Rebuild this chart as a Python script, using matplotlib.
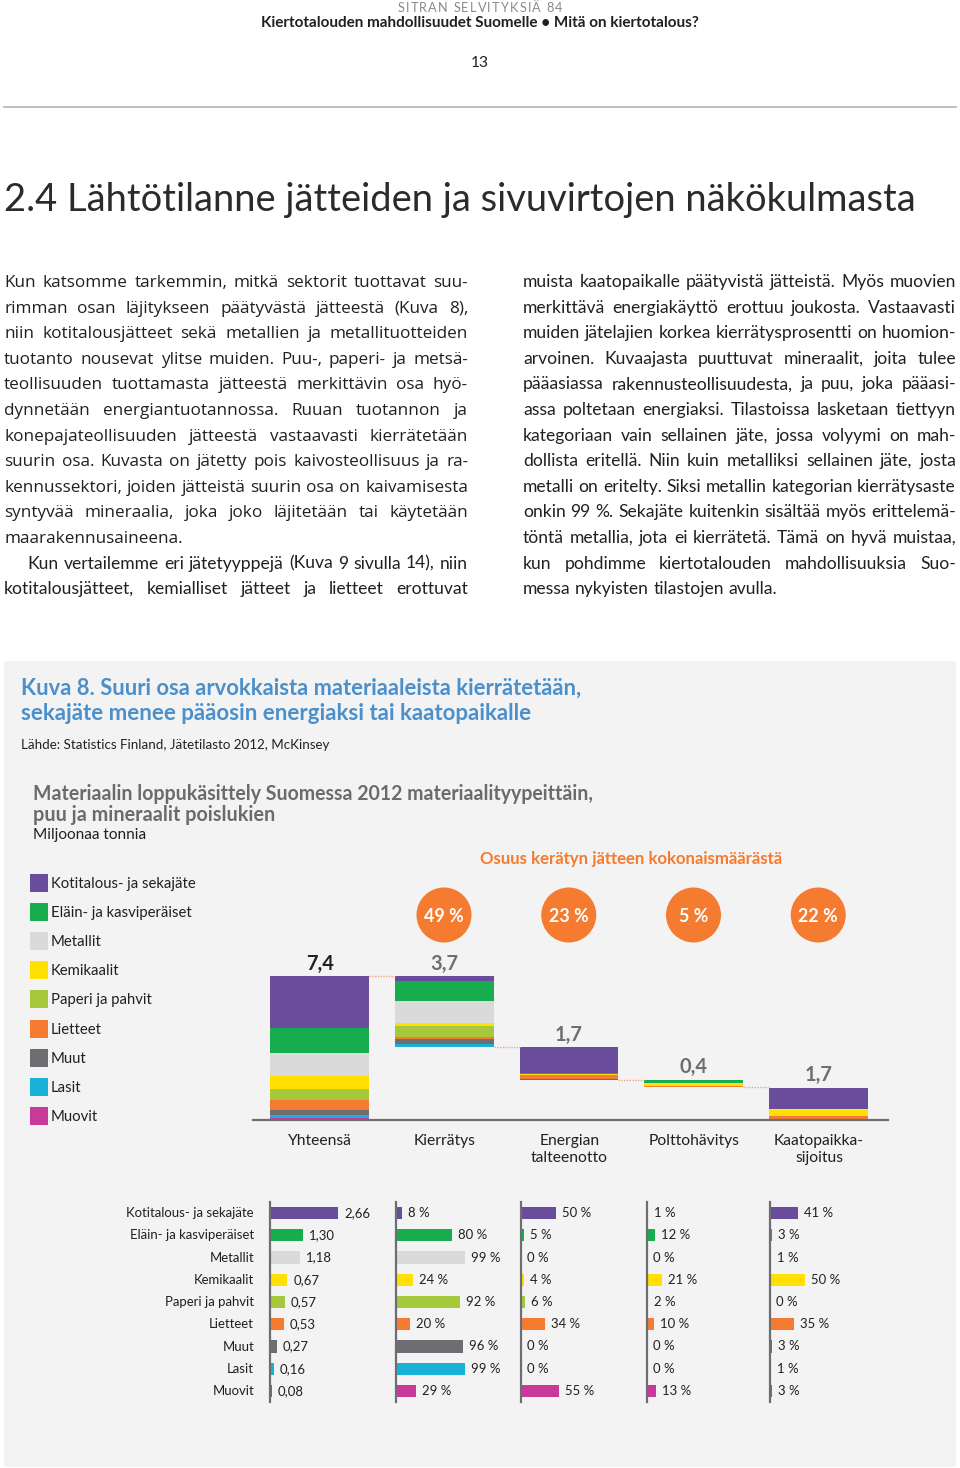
import matplotlib
matplotlib.use("Agg")
import matplotlib.pyplot as plt
from matplotlib.patches import Rectangle, Circle

# ---------------- data ----------------
materials = ["Kotitalous- ja sekajäte", "Eläin- ja kasviperäiset", "Metallit",
             "Kemikaalit", "Paperi ja pahvit", "Lietteet", "Muut", "Lasit", "Muovit"]
amounts = [2.66, 1.30, 1.18, 0.67, 0.57, 0.53, 0.27, 0.16, 0.08]
amount_labels = ["2,66", "1,30", "1,18", "0,67", "0,57", "0,53", "0,27", "0,16", "0,08"]
pct_recycling = [8, 80, 99, 24, 92, 20, 96, 99, 29]
pct_energy = [50, 5, 0, 4, 6, 34, 0, 0, 55]
pct_burning = [1, 12, 0, 21, 2, 10, 0, 0, 13]
pct_landfill = [41, 3, 1, 50, 0, 35, 3, 1, 3]
stages = ["Yhteensä", "Kierrätys", "Energian\ntalteenotto", "Polttohävitys", "Kaatopaikka-\nsijoitus"]
stage_labels = ["7,4", "3,7", "1,7", "0,4", "1,7"]
shares = ["49 %", "23 %", "5 %", "22 %"]
mat_colors = ["#6a4c9c", "#17ad4e", "#d9dad9", "#ffe000", "#a6c93b",
              "#f47b2f", "#6d6e71", "#19b2d6", "#c9399a"]

left_par1 = [
    "Kun katsomme tarkemmin, mitkä sektorit tuottavat suu-",
    "rimman osan läjitykseen päätyvästä jätteestä (Kuva 8),",
    "niin kotitalousjätteet sekä metallien ja metallituotteiden",
    "tuotanto nousevat ylitse muiden. Puu-, paperi- ja metsä-",
    "teollisuuden tuottamasta jätteestä merkittävin osa hyö-",
    "dynnetään energiantuotannossa. Ruuan tuotannon ja",
    "konepajateollisuuden jätteestä vastaavasti kierrätetään",
    "suurin osa. Kuvasta on jätetty pois kaivosteollisuus ja ra-",
    "kennussektori, joiden jätteistä suurin osa on kaivamisesta",
    "syntyvää mineraalia, joka joko läjitetään tai käytetään",
    "maarakennusaineena.",
]
left_par2 = [
    "Kun vertailemme eri jätetyyppejä (Kuva 9 sivulla 14), niin",
    "kotitalousjätteet, kemialliset jätteet ja lietteet erottuvat",
]
right_par = [
    "muista kaatopaikalle päätyvistä jätteistä. Myös muovien",
    "merkittävä energiakäyttö erottuu joukosta. Vastaavasti",
    "muiden jätelajien korkea kierrätysprosentti on huomion-",
    "arvoinen. Kuvaajasta puuttuvat mineraalit, joita tulee",
    "pääasiassa rakennusteollisuudesta, ja puu, joka pääasi-",
    "assa poltetaan energiaksi. Tilastoissa lasketaan tiettyyn",
    "kategoriaan vain sellainen jäte, jossa volyymi on mah-",
    "dollista eritellä. Niin kuin metalliksi sellainen jäte, josta",
    "metalli on eritelty. Siksi metallin kategorian kierrätysaste",
    "onkin 99 %. Sekajäte kuitenkin sisältää myös erittelemä-",
    "töntä metallia, jota ei kierrätetä. Tämä on hyvä muistaa,",
    "kun pohdimme kiertotalouden mahdollisuuksia Suo-",
    "messa nykyisten tilastojen avulla.",
]

# ---------------- figure ----------------
W, H = 960, 1468
fig = plt.figure(figsize=(W / 100, H / 100), dpi=100)
fig.patch.set_facecolor("white")
bg = fig.add_axes([0, 0, 1, 1])
bg.set_xlim(0, W)
bg.set_ylim(H, 0)
bg.axis("off")
R = fig.canvas.get_renderer()

DARK = "#231f20"
SANS = ["Lato", "DejaVu Sans"]
WIDE = ["Open Sans", "DejaVu Sans"]


def rect(x0, y0, x1, y1):
    return [x0 / W, 1 - y1 / H, (x1 - x0) / W, (y1 - y0) / H]


def text_width(s, size, **kw):
    t = bg.text(0, 0, s, fontsize=size, **kw)
    w = t.get_window_extent(R).width
    t.remove()
    return w


def size_for(s, width, **kw):
    return 10 * width / text_width(s, 10, **kw)


def fit(x, y, s, width, **kw):
    size = size_for(s, width, **{k: v for k, v in kw.items() if k in ("family", "weight")})
    return bg.text(x, y, s, fontsize=size, **kw)


def par_size(lines, width, family, indent_first=0):
    best = 99
    for i, ln in enumerate(lines):
        w = width - (indent_first if i == 0 else 0)
        best = min(best, 10 * w / text_width(ln, 10, family=family))
    return best * 0.995


def justify(x0, x1, base, line, size, family, last=False):
    words = line.split(" ")
    texts = [bg.text(0, base, w, fontsize=size, family=family, color=DARK,
                     va="baseline", ha="left") for w in words]
    widths = [t.get_window_extent(R).width for t in texts]
    if last or len(words) == 1:
        gap = text_width("a a", size, family=family) - text_width("aa", size, family=family)
    else:
        gap = (x1 - x0 - sum(widths)) / (len(words) - 1)
    x = x0
    for t, w in zip(texts, widths):
        t.set_x(x)
        x += w + gap


def spaced(xc, y, s, width, size, **kw):
    # letter-spaced text centred at xc spanning the given width
    texts = [bg.text(0, y, ch, fontsize=size, va="center", ha="left", **kw) for ch in s]
    widths = [t.get_window_extent(R).width for t in texts]
    track = (width - sum(widths)) / (len(s) - 1)
    x = xc - width / 2
    for t, w in zip(texts, widths):
        t.set_x(x)
        x += w + track


# ---------------- page header ----------------
spaced(480, 8, "SITRAN SELVITYKSIÄ 84", 165, 9.2, family=SANS, color="#8a8a8a")
fit(480, 23, "Kiertotalouden mahdollisuudet Suomelle • Mitä on kiertotalous?", 438,
    ha="center", va="center", family=SANS, weight="bold", color=DARK)
fit(480, 63, "13", 18, ha="center", va="center", family=SANS, color=DARK)
bg.plot([4, 956], [107, 107], color="#b4b4b4", lw=1.2)
fit(4, 200, "2.4 Lähtötilanne jätteiden ja sivuvirtojen näkökulmasta", 914,
    ha="left", va="center", family=SANS, color="#2b2b2b")

# ---------------- body text ----------------
lh = 25.6
b0 = 287
s1 = par_size(left_par1[:-1], 464, WIDE)
for i, ln in enumerate(left_par1):
    justify(4, 468, b0 + i * lh, ln, s1, WIDE, last=(i == len(left_par1) - 1))
s2 = min(par_size(left_par2, 464, SANS, indent_first=23), par_size(right_par[:-1], 433, SANS))
for i, ln in enumerate(left_par2):
    x0 = 27 if i == 0 else 4
    justify(x0, 468, b0 + (len(left_par1) + i) * lh, ln, s2, SANS)
for i, ln in enumerate(right_par):
    justify(523, 956, b0 + i * lh, ln, s2, SANS, last=(i == len(right_par) - 1))

# ---------------- grey box ----------------
bg.add_patch(Rectangle((4, 661), 952, 806, facecolor="#f3f3f3", edgecolor="none", zorder=0))
BLUE = "#4b8fcb"
fit(21, 688, "Kuva 8. Suuri osa arvokkaista materiaaleista kierrätetään,", 560,
    va="center", family=SANS, weight="bold", color=BLUE)
fit(21, 713, "sekajäte menee pääosin energiaksi tai kaatopaikalle", 509,
    va="center", family=SANS, weight="bold", color=BLUE)
fit(21, 745, "Lähde: Statistics Finland, Jätetilasto 2012, McKinsey", 307,
    va="center", family=SANS, color=DARK)
GREYT = "#6b6b6b"
fit(33, 794, "Materiaalin loppukäsittely Suomessa 2012 materiaalityypeittäin,", 560,
    va="center", family=SANS, weight="bold", color=GREYT)
fit(33, 815, "puu ja mineraalit poislukien", 241, va="center", family=SANS,
    weight="bold", color=GREYT)
fit(33, 835, "Miljoonaa tonnia", 114, va="center", family=SANS, color=DARK)
ORANGE = "#f47b2f"
fit(631, 859, "Osuus kerätyn jätteen kokonaismäärästä", 305, ha="center", va="center",
    family=SANS, weight="bold", color=ORANGE)

# legend
leg_size = size_for(materials[0], 145, family=SANS)
for i, (m, c) in enumerate(zip(materials, mat_colors)):
    yc = 883 + i * 29.1
    bg.add_patch(Rectangle((30, yc - 9), 18, 18, facecolor=c, edgecolor="none"))
    bg.text(51, yc + 1, m, fontsize=leg_size, family=SANS, color=DARK, va="center")

# ---------------- waterfall ----------------
unit_px = 124.75
px_per_mt = 19.35
wf = fig.add_axes(rect(253, 1120 - 8 * px_per_mt, 888, 1120))
wf.set_facecolor("none")
wf.set_xlim(-67 / unit_px, 4 + 70 / unit_px)
wf.set_ylim(0, 8)
for sp in ("top", "right", "left"):
    wf.spines[sp].set_visible(False)
wf.spines["bottom"].set_color("#6d6e71")
wf.spines["bottom"].set_linewidth(1.6)
wf.set_xticks([])
wf.set_yticks([])

stage_parts = [list(amounts)] + [[a * p / 100 for a, p in zip(amounts, pcts)]
                                 for pcts in (pct_recycling, pct_energy, pct_burning, pct_landfill)]
totals = [sum(p) for p in stage_parts]
bottoms = [0.0]
level = totals[0]
for t in totals[1:4]:
    level -= t
    bottoms.append(level)
bottoms.append(0.0)
bw = 99 / unit_px
val_size = size_for("7,4", 28, family=SANS, weight="bold")
for i, parts in enumerate(stage_parts):
    cum = bottoms[i]
    for j in reversed(range(len(parts))):
        if parts[j] > 0:
            wf.bar(i, parts[j], bottom=cum, width=bw, color=mat_colors[j], linewidth=0)
        cum += parts[j]
    top = bottoms[i] + totals[i]
    wcol = DARK if i == 0 else "#6d6e71"
    wf.text(i, top + 0.12, stage_labels[i], ha="center", va="bottom",
            fontsize=val_size, family=SANS, weight="bold", color=wcol)
# connectors
conn_levels = [totals[0], bottoms[1], bottoms[2], bottoms[3]]
for i, lv in enumerate(conn_levels):
    wf.plot([i + bw / 2, i + 1 - bw / 2], [lv, lv], color="#f2a77a", lw=1,
            linestyle=(0, (1, 1)))

cat_size = size_for("Polttohävitys", 91, family=SANS)
for i, s in enumerate(stages):
    bg.text(320 + i * unit_px, 1134, s, ha="center", va="top", fontsize=cat_size,
            family=SANS, color=DARK, linespacing=1.3)

# share circles
circ_size = size_for("49 %", 40, family=SANS, weight="bold")
for i, s in enumerate(shares):
    cx = 444 + i * unit_px
    bg.add_patch(Circle((cx, 915), 27.5, facecolor=ORANGE, edgecolor="none"))
    bg.text(cx, 916, s, ha="center", va="center", color="white", family=SANS,
            weight="bold", fontsize=circ_size)

# ---------------- small bar panels ----------------
row_size = size_for(materials[0], 127, family=SANS)
panels = [
    (270, amounts, amount_labels, 25.6),
    (396, pct_recycling, [f"{v} %" for v in pct_recycling], 0.695),
    (521, pct_energy, [f"{v} %" for v in pct_energy], 0.695),
    (647, pct_burning, [f"{v} %" for v in pct_burning], 0.695),
    (770, pct_landfill, [f"{v} %" for v in pct_landfill], 0.695),
]
for k, (x0, vals, labs, scale) in enumerate(panels):
    ax = fig.add_axes(rect(x0, 1202, x0 + 110, 1402))
    ax.set_facecolor("none")
    ax.set_xlim(0, 110 / scale)
    ax.set_ylim(8.5, -0.5)
    for sp in ("top", "right", "bottom"):
        ax.spines[sp].set_visible(False)
    ax.spines["left"].set_color("#6d6e71")
    ax.spines["left"].set_linewidth(1.6)
    ax.set_xticks([])
    ax.set_yticks([])
    ax.barh(range(len(vals)), vals, height=0.55, color=mat_colors, linewidth=0)
    for i, (v, lab) in enumerate(zip(vals, labs)):
        ax.text(v + 6 / scale, i, lab, va="center", ha="left", fontsize=row_size,
                family=SANS, color=DARK, clip_on=False)
    if k == 0:
        for i, m in enumerate(materials):
            bg.text(254, 1213 + i * 22.3, m, ha="right", va="center", fontsize=row_size,
                    family=SANS, color=DARK)

fig.savefig("out.png", dpi=100, facecolor="white")
